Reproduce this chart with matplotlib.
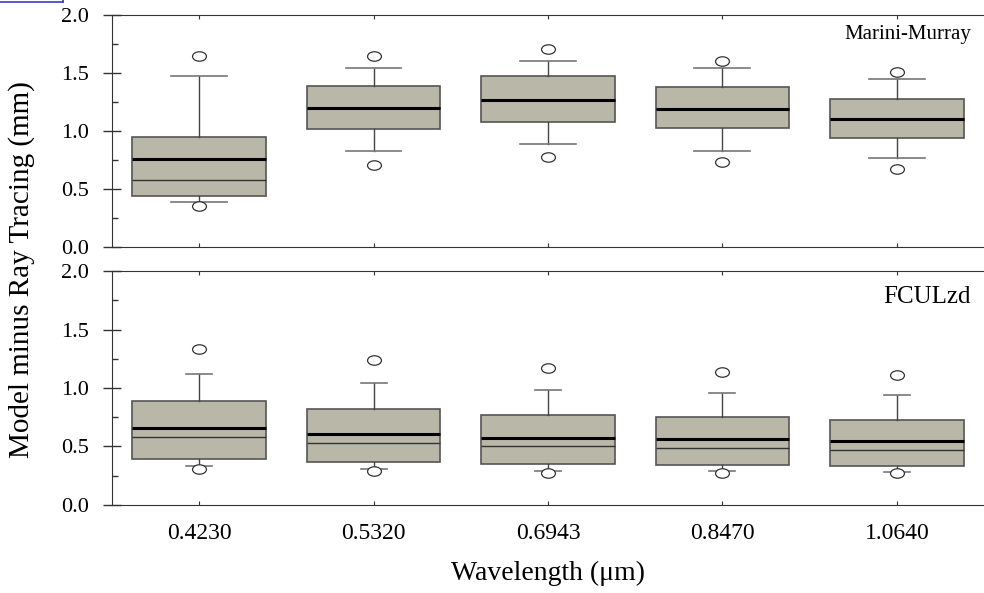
import numpy as np
import matplotlib
matplotlib.use("Agg")
import matplotlib.pyplot as plt
from matplotlib.path import Path
from matplotlib.ticker import MultipleLocator
from matplotlib.lines import Line2D

plt.rcParams['font.family'] = ['Liberation Serif', 'DejaVu Serif']

wavelengths = ["0.4230", "0.5320", "0.6943", "0.8470", "1.0640"]

# Marini-Murray
mm_q1 = [0.44, 1.02, 1.08, 1.025, 0.94]
mm_q3 = [0.95, 1.39, 1.47, 1.38, 1.28]
mm_med = [0.575, 1.20, 1.265, 1.19, 1.105]
mm_mean = [0.755, 1.20, 1.265, 1.19, 1.105]
mm_lo = [0.39, 0.83, 0.89, 0.83, 0.77]
mm_hi = [1.47, 1.54, 1.60, 1.54, 1.45]
mm_out_lo = [0.35, 0.71, 0.78, 0.73, 0.67]
mm_out_hi = [1.65, 1.65, 1.71, 1.60, 1.51]

# FCULzd
fc_q1 = [0.39, 0.37, 0.35, 0.34, 0.335]
fc_q3 = [0.89, 0.82, 0.77, 0.75, 0.73]
fc_med = [0.58, 0.53, 0.50, 0.49, 0.47]
fc_mean = [0.66, 0.61, 0.575, 0.56, 0.55]
fc_lo = [0.33, 0.31, 0.29, 0.29, 0.28]
fc_hi = [1.12, 1.04, 0.98, 0.96, 0.94]
fc_out_lo = [0.305, 0.29, 0.27, 0.27, 0.27]
fc_out_hi = [1.335, 1.24, 1.17, 1.14, 1.11]

circ = Path.unit_circle()
ell = Path(circ.vertices * np.array([1.0, 0.68]), circ.codes)

def make_stats(q1, q3, med, mean, lo, hi, olo, ohi):
    st = []
    for i in range(len(q1)):
        st.append(dict(q1=q1[i], q3=q3[i], med=med[i], mean=mean[i],
                       whislo=lo[i], whishi=hi[i], fliers=[olo[i], ohi[i]]))
    return st

def draw(ax, stats, capw, label, ly, lsize):
    pos = np.arange(1, len(stats) + 1)
    ax.bxp(stats, positions=pos, widths=0.765, capwidths=capw,
           showmeans=True, meanline=True, patch_artist=True,
           boxprops=dict(facecolor='#b9b7a8', edgecolor='#555555', linewidth=1.2),
           medianprops=dict(color='#333333', linewidth=1.0),
           meanprops=dict(color='black', linestyle='-', linewidth=2.2),
           whiskerprops=dict(color='#444444', linewidth=1.0),
           capprops=dict(color='#777777', linewidth=1.2),
           flierprops=dict(marker=ell, markersize=10, markerfacecolor='white',
                           markeredgecolor='#333333', markeredgewidth=0.9))
    ax.set_xlim(0.5, 5.5)
    ax.set_ylim(0, 2.0)
    ax.yaxis.set_major_locator(MultipleLocator(0.5))
    ax.yaxis.set_minor_locator(MultipleLocator(0.25))
    ax.yaxis.set_major_formatter(plt.FuncFormatter(lambda v, p: "%.1f" % v))
    ax.tick_params(axis='y', which='major', direction='inout', length=13, width=1.0,
                   labelsize=16, pad=10, color='#333333')
    ax.tick_params(axis='y', which='minor', direction='in', length=4, width=1.0, color='#333333')
    ax.tick_params(axis='x', direction='in', length=3, top=True, bottom=True, color='#333333')
    ax.spines['right'].set_visible(False)
    for s in ['left', 'top', 'bottom']:
        ax.spines[s].set_color('#333333')
    ax.text(0.985, ly, label, transform=ax.transAxes, ha='right', va='center', fontsize=lsize)

fig = plt.figure(figsize=(9.84, 5.93), dpi=100)
ax1 = fig.add_axes([0.1138, 0.5835, 0.8862, 0.3912])
ax2 = fig.add_axes([0.1138, 0.1484, 0.8862, 0.3946])

draw(ax1, make_stats(mm_q1, mm_q3, mm_med, mm_mean, mm_lo, mm_hi, mm_out_lo, mm_out_hi),
     0.32, "Marini-Murray", 0.915, 15)
draw(ax2, make_stats(fc_q1, fc_q3, fc_med, fc_mean, fc_lo, fc_hi, fc_out_lo, fc_out_hi),
     0.15, "FCULzd", 0.89, 18)

ax1.set_xticks(np.arange(1, 6))
ax1.set_xticklabels([])
ax2.set_xticks(np.arange(1, 6))
ax2.set_xticklabels(wavelengths)
ax2.tick_params(axis='x', labelsize=17, pad=13)
ax2.set_xlabel("Wavelength (\u03bcm)", fontsize=20, labelpad=12)

fig.text(0.022, 0.545, "Model minus Ray Tracing (mm)", rotation=90, ha='center', va='center',
         fontsize=21)

# small blue frame in the top-left corner
fig.add_artist(Line2D([0, 63 / 984], [1 - 2 / 593, 1 - 2 / 593], color='#3a3ac8', lw=1.2))
fig.add_artist(Line2D([63 / 984, 63 / 984], [1 - 2 / 593, 1.0], color='#3a3ac8', lw=1.2))

plt.savefig("out.png", dpi=100)
